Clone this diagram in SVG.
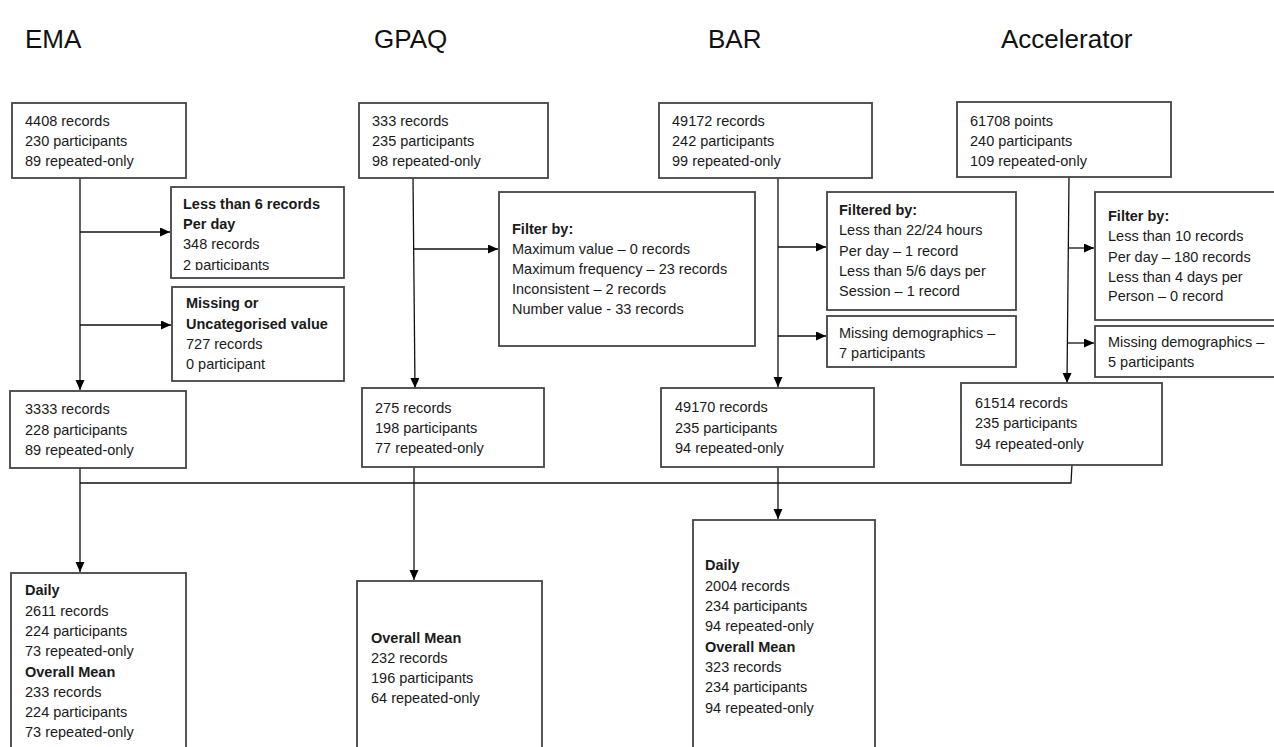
<svg xmlns="http://www.w3.org/2000/svg" width="1274" height="747" viewBox="0 0 1274 747">
<style>
  .box { fill: #ffffff; stroke: #444444; stroke-width: 1.8; }
  .t { font-family: "Liberation Sans", Arial, sans-serif; font-size: 14.5px; fill: #1a1a1a; }
  .b { font-weight: bold; }
  .title { font-family: "Liberation Sans", Arial, sans-serif; font-size: 26px; fill: #111111; }
  .conn { fill: none; stroke: #111111; stroke-width: 1.3; }
</style>
<defs>
  <marker id="arr" markerUnits="userSpaceOnUse" markerWidth="10" markerHeight="10" refX="10" refY="4.5" orient="auto">
    <path d="M0,0 L10,4.5 L0,9 Z" fill="#000000"/>
  </marker>
  <clipPath id="clipA"><rect x="171" y="187" width="173" height="83"/></clipPath>
  <clipPath id="clipC"><rect x="827" y="316" width="189" height="46"/></clipPath>
  <clipPath id="clipD"><rect x="1095" y="326" width="200" height="44"/></clipPath>
</defs>
<rect x="0" y="0" width="1274" height="747" fill="#ffffff"/>

<g id="titles">
  <text class="title" x="25" y="48">EMA</text>
  <text class="title" x="374" y="48">GPAQ</text>
  <text class="title" x="708" y="48">BAR</text>
  <text class="title" x="1001" y="48">Accelerator</text>
</g>

<g id="connectors">
  <line class="conn" x1="80" y1="178" x2="80" y2="390" marker-end="url(#arr)"/>
  <line class="conn" x1="80" y1="232" x2="170" y2="232" marker-end="url(#arr)"/>
  <line class="conn" x1="80" y1="325" x2="171" y2="325" marker-end="url(#arr)"/>
  <line class="conn" x1="413" y1="178" x2="415" y2="388" marker-end="url(#arr)"/>
  <line class="conn" x1="414" y1="249" x2="498" y2="249" marker-end="url(#arr)"/>
  <line class="conn" x1="778" y1="178" x2="778" y2="387" marker-end="url(#arr)"/>
  <line class="conn" x1="778" y1="247" x2="826" y2="247" marker-end="url(#arr)"/>
  <line class="conn" x1="778" y1="336" x2="826" y2="336" marker-end="url(#arr)"/>
  <line class="conn" x1="1069" y1="177" x2="1067" y2="383" marker-end="url(#arr)"/>
  <line class="conn" x1="1068" y1="248" x2="1094" y2="248" marker-end="url(#arr)"/>
  <line class="conn" x1="1068" y1="343" x2="1094" y2="343" marker-end="url(#arr)"/>
  <polyline class="conn" points="1072,465 1071,483 80,483"/>
  <line class="conn" x1="80" y1="468" x2="80" y2="572" marker-end="url(#arr)"/>
  <line class="conn" x1="414" y1="467" x2="414" y2="580" marker-end="url(#arr)"/>
  <line class="conn" x1="778" y1="467" x2="778" y2="519" marker-end="url(#arr)"/>
</g>

<g id="ema-start">
  <rect class="box" x="12" y="103" width="174" height="75"/>
  <text class="t" x="25" y="126">4408 records</text>
  <text class="t" x="25" y="146">230 participants</text>
  <text class="t" x="25" y="166">89 repeated-only</text>
</g>
<g id="ema-filter1">
  <rect class="box" x="171" y="187" width="173" height="91"/>
  <g clip-path="url(#clipA)">
    <text class="t b" x="183" y="209">Less than 6 records</text>
    <text class="t b" x="183" y="229">Per day</text>
    <text class="t" x="183" y="249">348 records</text>
    <text class="t" x="183" y="270">2 participants</text>
  </g>
</g>
<g id="ema-filter2">
  <rect class="box" x="172" y="287" width="172" height="94"/>
  <text class="t b" x="186" y="308">Missing or</text>
  <text class="t b" x="186" y="329">Uncategorised value</text>
  <text class="t" x="186" y="349">727 records</text>
  <text class="t" x="186" y="369">0 participant</text>
</g>
<g id="ema-clean">
  <rect class="box" x="10" y="391" width="176" height="77"/>
  <text class="t" x="25" y="414">3333 records</text>
  <text class="t" x="25" y="435">228 participants</text>
  <text class="t" x="25" y="455">89 repeated-only</text>
</g>
<g id="ema-final">
  <rect class="box" x="11" y="573" width="175" height="190"/>
  <text class="t b" x="25" y="595">Daily</text>
  <text class="t" x="25" y="616">2611 records</text>
  <text class="t" x="25" y="636">224 participants</text>
  <text class="t" x="25" y="656">73 repeated-only</text>
  <text class="t b" x="25" y="677">Overall Mean</text>
  <text class="t" x="25" y="697">233 records</text>
  <text class="t" x="25" y="717">224 participants</text>
  <text class="t" x="25" y="737">73 repeated-only</text>
</g>

<g id="gpaq-start">
  <rect class="box" x="359" y="103" width="189" height="75"/>
  <text class="t" x="372" y="126">333 records</text>
  <text class="t" x="372" y="146">235 participants</text>
  <text class="t" x="372" y="166">98 repeated-only</text>
</g>
<g id="gpaq-filter">
  <rect class="box" x="499" y="192" width="256" height="154"/>
  <text class="t b" x="512" y="234">Filter by:</text>
  <text class="t" x="512" y="254">Maximum value – 0 records</text>
  <text class="t" x="512" y="274">Maximum frequency – 23 records</text>
  <text class="t" x="512" y="294">Inconsistent – 2 records</text>
  <text class="t" x="512" y="314">Number value - 33 records</text>
</g>
<g id="gpaq-clean">
  <rect class="box" x="362" y="388" width="182" height="79"/>
  <text class="t" x="375" y="413">275 records</text>
  <text class="t" x="375" y="433">198 participants</text>
  <text class="t" x="375" y="453">77 repeated-only</text>
</g>
<g id="gpaq-final">
  <rect class="box" x="357" y="581" width="185" height="180"/>
  <text class="t b" x="371" y="643">Overall Mean</text>
  <text class="t" x="371" y="663">232 records</text>
  <text class="t" x="371" y="683">196 participants</text>
  <text class="t" x="371" y="703">64 repeated-only</text>
</g>

<g id="bar-start">
  <rect class="box" x="659" y="103" width="213" height="75"/>
  <text class="t" x="672" y="126">49172 records</text>
  <text class="t" x="672" y="146">242 participants</text>
  <text class="t" x="672" y="166">99 repeated-only</text>
</g>
<g id="bar-filter">
  <rect class="box" x="827" y="192" width="189" height="118"/>
  <text class="t b" x="839" y="215">Filtered by:</text>
  <text class="t" x="839" y="235">Less than 22/24 hours</text>
  <text class="t" x="839" y="256">Per day – 1 record</text>
  <text class="t" x="839" y="276">Less than 5/6 days per</text>
  <text class="t" x="839" y="296">Session – 1 record</text>
</g>
<g id="bar-missing">
  <rect class="box" x="827" y="316" width="189" height="51"/>
  <g clip-path="url(#clipC)">
    <text class="t" x="839" y="338">Missing demographics –</text>
    <text class="t" x="839" y="358">7 participants</text>
  </g>
</g>
<g id="bar-clean">
  <rect class="box" x="661" y="388" width="213" height="79"/>
  <text class="t" x="675" y="412">49170 records</text>
  <text class="t" x="675" y="433">235 participants</text>
  <text class="t" x="675" y="453">94 repeated-only</text>
</g>
<g id="bar-final">
  <rect class="box" x="693" y="520" width="182" height="240"/>
  <text class="t b" x="705" y="570">Daily</text>
  <text class="t" x="705" y="591">2004 records</text>
  <text class="t" x="705" y="611">234 participants</text>
  <text class="t" x="705" y="631">94 repeated-only</text>
  <text class="t b" x="705" y="652">Overall Mean</text>
  <text class="t" x="705" y="672">323 records</text>
  <text class="t" x="705" y="692">234 participants</text>
  <text class="t" x="705" y="713">94 repeated-only</text>
</g>

<g id="acc-start">
  <rect class="box" x="957" y="102" width="214" height="75"/>
  <text class="t" x="970" y="126">61708 points</text>
  <text class="t" x="970" y="146">240 participants</text>
  <text class="t" x="970" y="166">109 repeated-only</text>
</g>
<g id="acc-filter">
  <rect class="box" x="1095" y="192" width="200" height="128"/>
  <text class="t b" x="1108" y="221">Filter by:</text>
  <text class="t" x="1108" y="241">Less than 10 records</text>
  <text class="t" x="1108" y="262">Per day – 180 records</text>
  <text class="t" x="1108" y="282">Less than 4 days per</text>
  <text class="t" x="1108" y="301">Person – 0 record</text>
</g>
<g id="acc-missing">
  <rect class="box" x="1095" y="326" width="200" height="51"/>
  <g clip-path="url(#clipD)">
    <text class="t" x="1108" y="347">Missing demographics –</text>
    <text class="t" x="1108" y="367">5 participants</text>
  </g>
</g>
<g id="acc-clean">
  <rect class="box" x="961" y="383" width="201" height="82"/>
  <text class="t" x="975" y="408">61514 records</text>
  <text class="t" x="975" y="428">235 participants</text>
  <text class="t" x="975" y="449">94 repeated-only</text>
</g>
</svg>
